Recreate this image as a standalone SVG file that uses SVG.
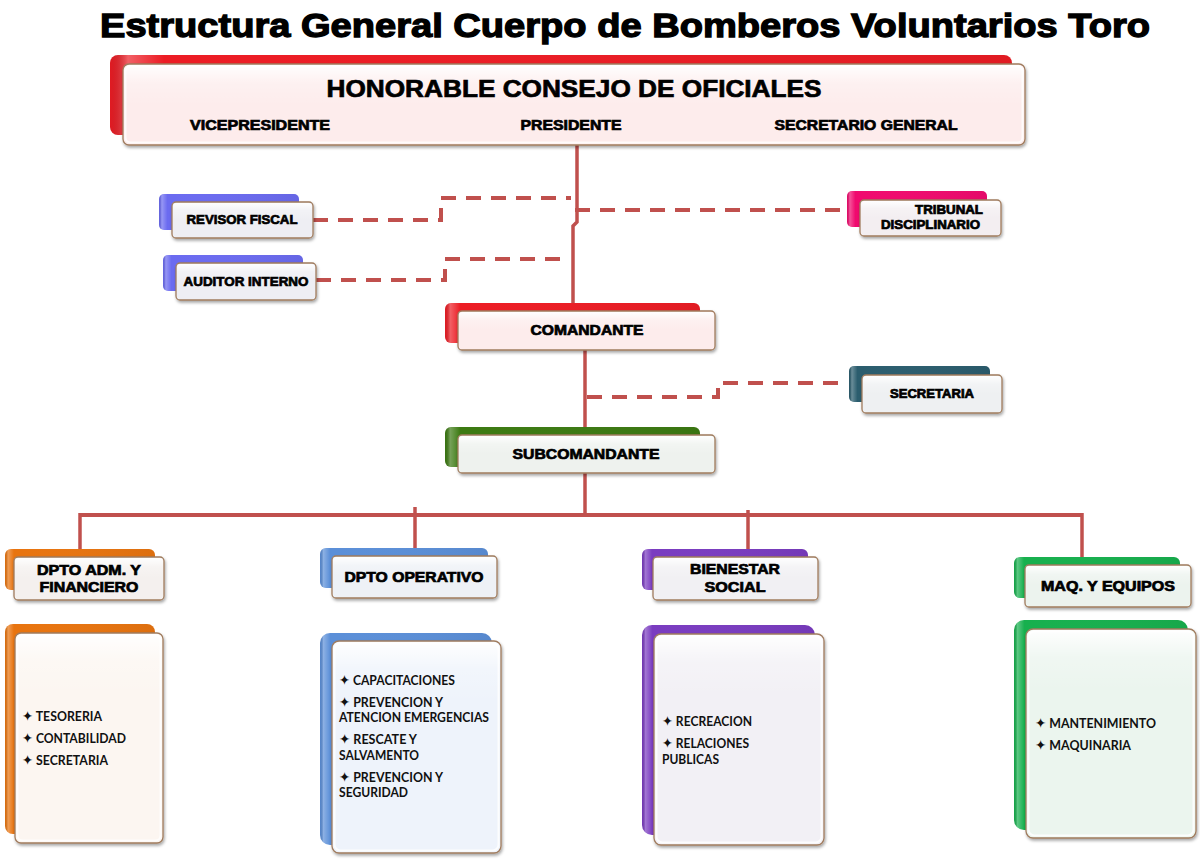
<svg xmlns="http://www.w3.org/2000/svg" width="1200" height="861" viewBox="0 0 1200 861">
<defs>
<linearGradient id="gloss" x1="0" y1="0" x2="0" y2="1">
<stop offset="0" stop-color="#ffffff" stop-opacity="0.95"/>
<stop offset="0.45" stop-color="#ffffff" stop-opacity="0.25"/>
<stop offset="1" stop-color="#ffffff" stop-opacity="0"/>
</linearGradient>
<linearGradient id="backg" x1="0" y1="0" x2="1" y2="0">
<stop offset="0" stop-color="#000000" stop-opacity="0.05"/>
<stop offset="0.02" stop-color="#ffffff" stop-opacity="0.3"/>
<stop offset="0.06" stop-color="#ffffff" stop-opacity="0"/>
<stop offset="1" stop-color="#000000" stop-opacity="0.05"/>
</linearGradient>
<filter id="sh" x="-10%" y="-10%" width="125%" height="130%">
<feDropShadow dx="1" dy="2" stdDeviation="1.5" flood-color="#000" flood-opacity="0.35"/>
</filter>
</defs>
<style>
.front{stroke:#a07c5e;stroke-width:1.3;filter:url(#sh)}
.inner{fill:none;stroke:#ffffff;stroke-width:2;stroke-opacity:0.8}
.gl{fill:url(#gloss)}
.bg{fill:url(#backg)}
.solid{stroke:#c0504d;stroke-width:3.5;fill:none}
.dash{stroke:#c0504d;stroke-width:4;fill:none;stroke-dasharray:15 10}
.h{font-family:"Liberation Sans",Arial,sans-serif;font-weight:bold;fill:#000;stroke:#000;stroke-width:0.7}
.it{font-family:Lato,"Open Sans","DejaVu Sans",sans-serif;font-weight:bold;font-size:13px;fill:#111}
.st{font-family:"DejaVu Sans",sans-serif;font-size:14px}
</style>
<rect width="1200" height="861" fill="#ffffff"/>
<text class="h" x="625" y="37" font-size="34" text-anchor="middle" textLength="1050" lengthAdjust="spacingAndGlyphs" style="stroke-width:1.3">Estructura General Cuerpo de Bomberos Voluntarios Toro</text>

<g id="connectors">
<polyline class="solid" points="577,145 577,222 573,226 573,305"/>
<polyline class="dash" points="313,220 441,220 441,198 571,198"/>
<polyline class="dash" points="316,280 445,280 445,259 563,259"/>
<polyline class="dash" points="575,210 847,210"/>
<line class="solid" x1="585" y1="350" x2="585" y2="437"/>
<polyline class="dash" points="587,397 718,397 718,383 845,383"/>
<line class="solid" x1="585" y1="473" x2="585" y2="515"/>
<line class="solid" x1="80" y1="515" x2="1082" y2="515" style="stroke-width:4"/>
<line class="solid" x1="80" y1="513" x2="80" y2="553"/>
<line class="solid" x1="415" y1="507" x2="415" y2="552"/>
<line class="solid" x1="748" y1="510" x2="748" y2="553"/>
<line class="solid" x1="1082" y1="513" x2="1082" y2="560"/>
</g>

<g id="consejo">
<rect x="110" y="55" width="902" height="80" rx="8" fill="#ec1c24"/>
<rect x="110" y="55" width="902" height="80" rx="8" class="bg"/>
<rect x="123" y="64" width="902" height="81" rx="6" fill="#fdecec" class="front"/>
<rect x="124" y="65" width="900" height="40" rx="6" class="gl"/>
<rect x="125.5" y="66.5" width="897" height="76" rx="5" class="inner"/>
<text class="h" x="574" y="97" font-size="24" text-anchor="middle" textLength="495" lengthAdjust="spacingAndGlyphs">HONORABLE CONSEJO DE OFICIALES</text>
<text class="h" x="260" y="130" font-size="14" text-anchor="middle" textLength="140" lengthAdjust="spacingAndGlyphs">VICEPRESIDENTE</text>
<text class="h" x="571" y="130" font-size="14" text-anchor="middle" textLength="101" lengthAdjust="spacingAndGlyphs">PRESIDENTE</text>
<text class="h" x="866" y="130" font-size="14" text-anchor="middle" textLength="183" lengthAdjust="spacingAndGlyphs">SECRETARIO GENERAL</text>
</g>

<g id="revisor">
<rect x="159" y="194" width="140" height="36" rx="5" fill="#6b6bf0"/>
<rect x="159" y="194" width="140" height="36" rx="5" class="bg"/>
<rect x="172" y="202" width="141" height="36" rx="4" fill="#eeeef3" class="front"/>
<rect x="173" y="203" width="139" height="17" rx="4" class="gl"/>
<text class="h" x="242" y="224" font-size="13" text-anchor="middle" textLength="111" lengthAdjust="spacingAndGlyphs">REVISOR FISCAL</text>
</g>

<g id="auditor">
<rect x="163" y="255" width="140" height="36" rx="5" fill="#6b6bf0"/>
<rect x="163" y="255" width="140" height="36" rx="5" class="bg"/>
<rect x="176" y="263" width="140" height="37" rx="4" fill="#eeeef3" class="front"/>
<rect x="177" y="264" width="138" height="17" rx="4" class="gl"/>
<text class="h" x="246" y="286" font-size="13" text-anchor="middle" textLength="125" lengthAdjust="spacingAndGlyphs">AUDITOR INTERNO</text>
</g>

<g id="tribunal">
<rect x="847" y="191" width="140" height="36" rx="5" fill="#f00a6e"/>
<rect x="847" y="191" width="140" height="36" rx="5" class="bg"/>
<rect x="860" y="200" width="141" height="36" rx="4" fill="#f3eef1" class="front"/>
<rect x="861" y="201" width="139" height="17" rx="4" class="gl"/>
<text class="h" x="983" y="214" font-size="12" text-anchor="end" textLength="68" lengthAdjust="spacingAndGlyphs">TRIBUNAL</text>
<text class="h" x="980" y="229" font-size="12" text-anchor="end" textLength="99" lengthAdjust="spacingAndGlyphs">DISCIPLINARIO</text>
</g>

<g id="comandante">
<rect x="445" y="303" width="255" height="40" rx="6" fill="#ec1c24"/>
<rect x="445" y="303" width="255" height="40" rx="6" class="bg"/>
<rect x="458" y="311" width="257" height="39" rx="4" fill="#fdecec" class="front"/>
<rect x="459" y="312" width="255" height="18" rx="4" class="gl"/>
<text class="h" x="587" y="335" font-size="14" text-anchor="middle" textLength="113" lengthAdjust="spacingAndGlyphs">COMANDANTE</text>
</g>

<g id="secretaria">
<rect x="849" y="366" width="141" height="36" rx="5" fill="#2b5d6e"/>
<rect x="849" y="366" width="141" height="36" rx="5" class="bg"/>
<rect x="862" y="375" width="140" height="38" rx="4" fill="#eef0f2" class="front"/>
<rect x="863" y="376" width="138" height="18" rx="4" class="gl"/>
<text class="h" x="932" y="398" font-size="12" text-anchor="middle" textLength="84" lengthAdjust="spacingAndGlyphs">SECRETARIA</text>
</g>

<g id="subcomandante">
<rect x="445" y="427" width="255" height="40" rx="6" fill="#3c7a12"/>
<rect x="445" y="427" width="255" height="40" rx="6" class="bg"/>
<rect x="458" y="435" width="257" height="38" rx="4" fill="#eef2ee" class="front"/>
<rect x="459" y="436" width="255" height="18" rx="4" class="gl"/>
<text class="h" x="586" y="459" font-size="14" text-anchor="middle" textLength="147" lengthAdjust="spacingAndGlyphs">SUBCOMANDANTE</text>
</g>

<g id="dpto-adm">
<rect x="5" y="549" width="150" height="41" rx="6" fill="#e8740f"/>
<rect x="5" y="549" width="150" height="41" rx="6" class="bg"/>
<rect x="14" y="557" width="150" height="43" rx="4" fill="#f4f0ee" class="front"/>
<rect x="15" y="558" width="148" height="20" rx="4" class="gl"/>
<text class="h" x="89" y="575" font-size="14" text-anchor="middle" textLength="104" lengthAdjust="spacingAndGlyphs">DPTO ADM. Y</text>
<text class="h" x="89" y="592" font-size="14" text-anchor="middle" textLength="99" lengthAdjust="spacingAndGlyphs">FINANCIERO</text>
</g>
<g id="dpto-adm-items">
<rect x="5" y="624" width="150" height="210" rx="8" fill="#e8740f"/>
<rect x="5" y="624" width="150" height="210" rx="8" class="bg"/>
<rect x="15" y="633" width="148" height="210" rx="6" fill="#fcf6f1" class="front"/>
<rect x="16" y="634" width="146" height="60" rx="6" class="gl"/>
<rect x="17.5" y="635.5" width="143" height="205" rx="5" class="inner"/>
<text class="it" x="22" y="721" textLength="80" lengthAdjust="spacingAndGlyphs"><tspan class="st">✦</tspan> TESORERIA</text>
<text class="it" x="22" y="743" textLength="104" lengthAdjust="spacingAndGlyphs"><tspan class="st">✦</tspan> CONTABILIDAD</text>
<text class="it" x="22" y="765" textLength="86" lengthAdjust="spacingAndGlyphs"><tspan class="st">✦</tspan> SECRETARIA</text>
</g>

<g id="dpto-operativo">
<rect x="320" y="548" width="168" height="40" rx="6" fill="#5b8fd8"/>
<rect x="320" y="548" width="168" height="40" rx="6" class="bg"/>
<rect x="332" y="556" width="165" height="42" rx="4" fill="#eef1f6" class="front"/>
<rect x="333" y="557" width="163" height="19" rx="4" class="gl"/>
<text class="h" x="414" y="582" font-size="14" text-anchor="middle" textLength="139" lengthAdjust="spacingAndGlyphs">DPTO OPERATIVO</text>
</g>
<g id="dpto-operativo-items">
<rect x="320" y="633" width="172" height="212" rx="10" fill="#5b8fd8"/>
<rect x="320" y="633" width="172" height="212" rx="10" class="bg"/>
<rect x="332" y="641" width="169" height="212" rx="7" fill="#eef3fb" class="front"/>
<rect x="333" y="642" width="167" height="60" rx="7" class="gl"/>
<rect x="334.5" y="643.5" width="164" height="207" rx="6" class="inner"/>
<text class="it" x="339" y="685" textLength="116" lengthAdjust="spacingAndGlyphs"><tspan class="st">✦</tspan> CAPACITACIONES</text>
<text class="it" x="339" y="707" textLength="104" lengthAdjust="spacingAndGlyphs"><tspan class="st">✦</tspan> PREVENCION Y</text>
<text class="it" x="339" y="722" textLength="150" lengthAdjust="spacingAndGlyphs">ATENCION EMERGENCIAS</text>
<text class="it" x="339" y="744" textLength="78" lengthAdjust="spacingAndGlyphs"><tspan class="st">✦</tspan> RESCATE Y</text>
<text class="it" x="339" y="760" textLength="80" lengthAdjust="spacingAndGlyphs">SALVAMENTO</text>
<text class="it" x="339" y="782" textLength="104" lengthAdjust="spacingAndGlyphs"><tspan class="st">✦</tspan> PREVENCION Y</text>
<text class="it" x="339" y="797" textLength="69" lengthAdjust="spacingAndGlyphs">SEGURIDAD</text>
</g>

<g id="bienestar">
<rect x="642" y="549" width="166" height="41" rx="6" fill="#7a3cc0"/>
<rect x="642" y="549" width="166" height="41" rx="6" class="bg"/>
<rect x="653" y="557" width="165" height="43" rx="4" fill="#f1f0f3" class="front"/>
<rect x="654" y="558" width="163" height="20" rx="4" class="gl"/>
<text class="h" x="735" y="574" font-size="14" text-anchor="middle" textLength="90" lengthAdjust="spacingAndGlyphs">BIENESTAR</text>
<text class="h" x="735" y="592" font-size="14" text-anchor="middle" textLength="61" lengthAdjust="spacingAndGlyphs">SOCIAL</text>
</g>
<g id="bienestar-items">
<rect x="642" y="625" width="173" height="210" rx="10" fill="#7a3cc0"/>
<rect x="642" y="625" width="173" height="210" rx="10" class="bg"/>
<rect x="654" y="634" width="170" height="211" rx="7" fill="#f2f0f5" class="front"/>
<rect x="655" y="635" width="168" height="60" rx="7" class="gl"/>
<rect x="656.5" y="636.5" width="165" height="206" rx="6" class="inner"/>
<text class="it" x="662" y="726" textLength="90" lengthAdjust="spacingAndGlyphs"><tspan class="st">✦</tspan> RECREACION</text>
<text class="it" x="662" y="748" textLength="87" lengthAdjust="spacingAndGlyphs"><tspan class="st">✦</tspan> RELACIONES</text>
<text class="it" x="662" y="764" textLength="57" lengthAdjust="spacingAndGlyphs">PUBLICAS</text>
</g>

<g id="maquinaria">
<rect x="1014" y="557" width="166" height="41" rx="6" fill="#17b04e"/>
<rect x="1014" y="557" width="166" height="41" rx="6" class="bg"/>
<rect x="1025" y="565" width="166" height="42" rx="4" fill="#ecf3ee" class="front"/>
<rect x="1026" y="566" width="164" height="19" rx="4" class="gl"/>
<text class="h" x="1108" y="591" font-size="14" text-anchor="middle" textLength="134" lengthAdjust="spacingAndGlyphs">MAQ. Y EQUIPOS</text>
</g>
<g id="maquinaria-items">
<rect x="1014" y="620" width="174" height="210" rx="10" fill="#17b04e"/>
<rect x="1014" y="620" width="174" height="210" rx="10" class="bg"/>
<rect x="1026" y="629" width="170" height="209" rx="7" fill="#ebf5ee" class="front"/>
<rect x="1027" y="630" width="168" height="60" rx="7" class="gl"/>
<rect x="1028.5" y="631.5" width="165" height="204" rx="6" class="inner"/>
<text class="it" x="1035" y="728" textLength="121" lengthAdjust="spacingAndGlyphs"><tspan class="st">✦</tspan> MANTENIMIENTO</text>
<text class="it" x="1035" y="750" textLength="96" lengthAdjust="spacingAndGlyphs"><tspan class="st">✦</tspan> MAQUINARIA</text>
</g>
</svg>
